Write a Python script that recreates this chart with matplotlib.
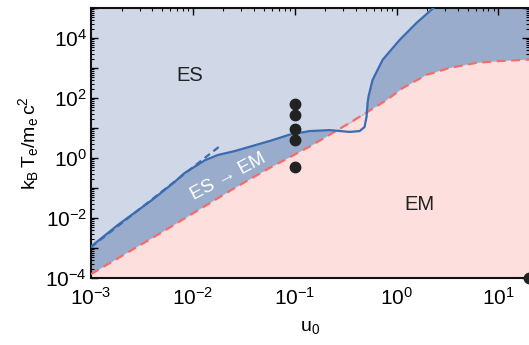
import numpy as np
import matplotlib
matplotlib.use('Agg')
import matplotlib.pyplot as plt

plt.rcParams['font.family'] = ['Liberation Sans', 'DejaVu Sans']
plt.rcParams['mathtext.fontset'] = 'custom'
plt.rcParams['mathtext.rm'] = 'Liberation Sans'
plt.rcParams['mathtext.it'] = 'Liberation Sans'

# ES/EM boundary (solid blue)
blue_u = [1.0e-3, 1.84e-3, 3.98e-3, 6.6e-3, 8.3e-3, 1.32e-2, 1.76e-2, 2.57e-2,
          5.7e-2, 8.9e-2, 0.14, 0.22, 0.347, 0.434, 0.485, 0.508, 0.52,
          0.531, 0.582, 0.73, 1.07, 1.57, 2.36, 3.16]
blue_T = [1.12e-3, 5.9e-3, 4.0e-2, 0.158, 0.316, 0.85, 1.26, 1.7,
          3.7, 6.0, 7.9, 8.5, 7.4, 7.9, 10.7, 23.4, 67.6,
          112, 398, 1860, 8500, 3.16e4, 1.07e5, 2.5e5]

# fitted power law (blue dashed)
fit_u = [1.0e-3, 1.8e-2]
fit_T = [1.07e-3, 2.34]

# threshold curve (red dashed)
red_u = [1.0e-3, 5.0e-3, 2.57e-2, 5.7e-2, 0.14, 0.347, 0.798, 1.15,
         1.97, 3.31, 6.08, 10.2, 20.0]
red_T = [1.35e-4, 3.4e-3, 0.1, 0.47, 2.4, 14.8, 85, 214,
         589, 1000, 1480, 1700, 1900]

# simulation points
dot_u = [0.1, 0.1, 0.1, 0.1, 0.1]
dot_T = [65, 28, 9.5, 4.0, 0.5]

ytick_vals = [1e-4, 1e-3, 1e-2, 1e-1, 1e0, 1e1, 1e2, 1e3, 1e4, 1e5]
ytick_labels = ['$10^{-4}$', '', '$10^{-2}$', '', '$10^{0}$', '',
                '$10^{2}$', '', '$10^{4}$', '']
xtick_vals = [1e-3, 1e-2, 1e-1, 1e0, 1e1]
xtick_labels = ['$10^{-3}$', '$10^{-2}$', '$10^{-1}$', '$10^{0}$', '$10^{1}$']

c_es = '#d0d8e7'
c_mid = '#9aaccb'
c_em = '#fde0dd'
c_blue = '#3b6cb2'
c_red = '#f76b6b'

fig = plt.figure(figsize=(5.29, 3.45), dpi=100)
ax = fig.add_axes([0.172, 0.194, 0.828, 0.783])
ax.set_xscale('log')
ax.set_yscale('log')
ax.set_facecolor(c_es)

# region between the two curves
poly_u = blue_u + [20.0, 20.0] + red_u[::-1]
poly_T = blue_T + [1e7, 1e7] + red_T[::-1]
ax.fill(poly_u, poly_T, color=c_mid, lw=0, zorder=1)
ax.fill_between(red_u, red_T, 1e-5, color=c_em, lw=0, zorder=2)

ax.plot(red_u, red_T, color=c_red, lw=1.6, dashes=(4, 2.5), zorder=3)
ax.plot(fit_u, fit_T, color=c_blue, lw=1.6, dashes=(3, 2), zorder=4)
ax.plot(blue_u, blue_T, color=c_blue, lw=1.6, zorder=4)
ax.plot(dot_u, dot_T, 'o', color='#222222', ms=7.5, zorder=5)
ax.plot([20.0], [1e-4], 'o', color='#222222', ms=7.5, zorder=6, clip_on=False)

ax.set_xlim(1e-3, 20)
ax.set_ylim(1e-4, 1e5)
ax.set_xticks(xtick_vals)
ax.set_xticklabels(xtick_labels)
ax.set_yticks(ytick_vals)
ax.set_yticklabels(ytick_labels)
ax.yaxis.set_minor_locator(matplotlib.ticker.LogLocator(base=10, subs=np.arange(2, 10), numticks=30))
ax.yaxis.set_minor_formatter(matplotlib.ticker.NullFormatter())
ax.xaxis.set_minor_formatter(matplotlib.ticker.NullFormatter())
ax.tick_params(which='both', direction='in', top=True, right=True, labelsize=15)
ax.tick_params(axis='x', pad=6)
ax.tick_params(axis='y', pad=3)
ax.tick_params(which='major', length=5, width=1)
ax.tick_params(which='minor', length=2.5, width=0.8)
for s in ['left', 'bottom', 'top']:
    ax.spines[s].set_linewidth(1.5)
    ax.spines[s].set_color('#111111')
ax.spines['right'].set_visible(False)

ax.set_xlabel(r'$\mathregular{u_0}$', fontsize=14, labelpad=8)
ax.set_ylabel(r'$\mathregular{k_B\,T_e/m_e\,c^2}$', fontsize=14, labelpad=3)

ax.text(9.3e-3, 540, 'ES', fontsize=14.5, color='#222222', ha='center', va='center')
ax.text(1.68, 0.029, 'EM', fontsize=14.5, color='#222222', ha='center', va='center')
ax.text(2.25e-2, 0.233, 'ES \u2192 EM', fontsize=13.5, color='white', ha='center', va='center',
        rotation=28)

fig.savefig('out.png', dpi=100)
